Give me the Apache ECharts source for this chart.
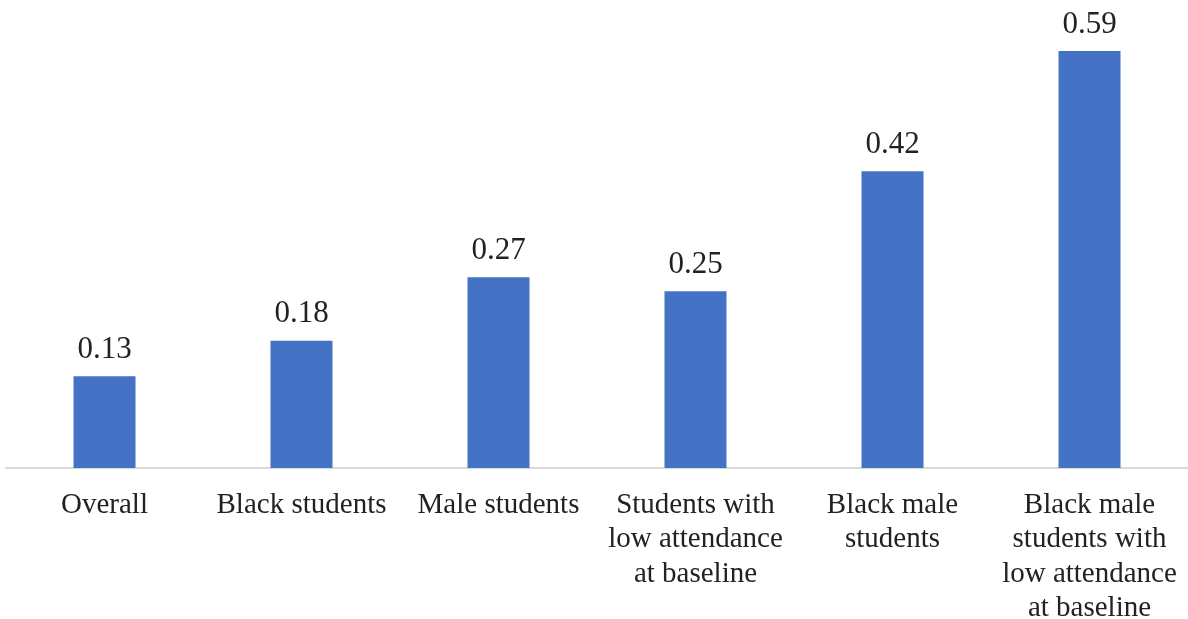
<!DOCTYPE html>
<html><head><meta charset="utf-8">
<script src="https://cdn.jsdelivr.net/npm/echarts@6/dist/echarts.min.js"></script>
<style>html,body{margin:0;padding:0;background:#fff}#c{width:1188px;height:619px}</style>
</head><body><div id="c"></div>
<script>
const categories = ["Overall", "Black students", "Male students", "Students with\nlow attendance\nat baseline", "Black male\nstudents", "Black male\nstudents with\nlow attendance\nat baseline"];
const values = [0.13, 0.18, 0.27, 0.25, 0.42, 0.59];

const chart = echarts.init(document.getElementById('c'));
chart.setOption({
  animation: false,
  grid: {left: 6, right: 0, top: 44, bottom: 151, containLabel: false, outerBoundsMode: 'none'},
  xAxis: {
    type: 'category', data: categories,
    axisLine: {show: true, lineStyle: {color: '#d9d9d9', width: 2}},
    axisTick: {show: false},
    axisLabel: {color: '#222', fontFamily: 'Liberation Serif', fontSize: 29, lineHeight: 34.5, margin: 20, interval: 0}
  },
  yAxis: {
    type: 'value', min: 0, max: 0.6,
    show: false, splitLine: {show: false}
  },
  series: [{
    type: 'bar', data: values, barWidth: 62,
    itemStyle: {color: '#4472C4'},
    label: {show: true, position: 'top', distance: 11, color: '#222', fontFamily: 'Liberation Serif', fontSize: 31,
      formatter: p => p.value.toFixed(2)}
  }]
});
</script></body></html>
